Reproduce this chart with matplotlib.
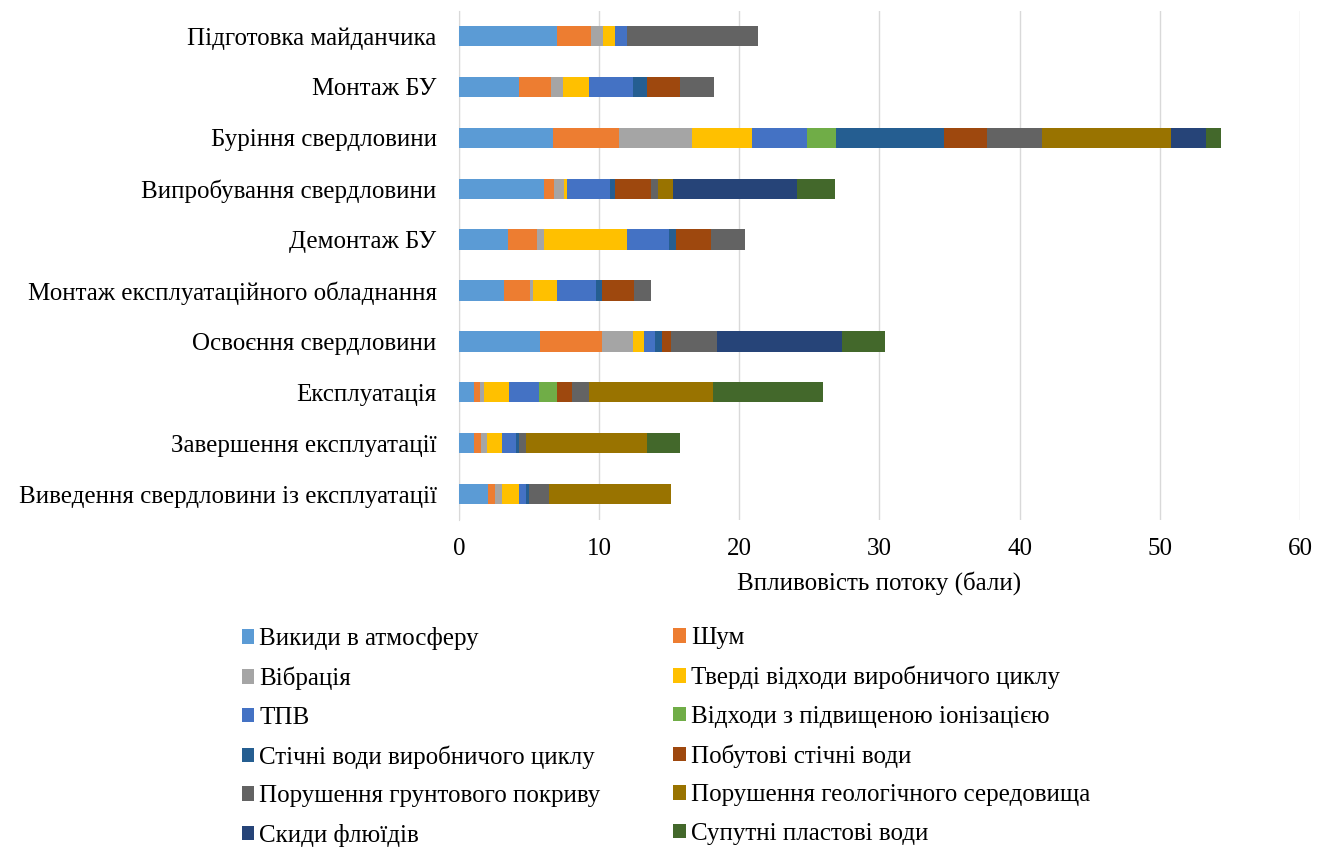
import matplotlib
matplotlib.use('Agg')
import matplotlib.pyplot as plt
import numpy as np

plt.rcParams['font.family'] = ['Liberation Serif', 'DejaVu Serif']

# Етапи (зверху вниз)
etapy = ['Підготовка майданчика', 'Монтаж БУ', 'Буріння свердловини',
         'Випробування свердловини', 'Демонтаж БУ',
         'Монтаж експлуатаційного обладнання', 'Освоєння свердловини',
         'Експлуатація', 'Завершення експлуатації',
         'Виведення свердловини із експлуатації']

potoky = ['Викиди в атмосферу', 'Шум', 'Вібрація',
          'Тверді відходи виробничого циклу', 'ТПВ',
          'Відходи з підвищеною іонізацією', 'Стічні води виробничого циклу',
          'Побутові стічні води', 'Порушення грунтового покриву',
          'Порушення геологічного середовища', 'Скиди флюїдів',
          'Супутні пластові води']

kolory = ['#5B9BD5', '#ED7D31', '#A5A5A5', '#FFC000', '#4472C4', '#70AD47',
          '#255E91', '#9E480E', '#636363', '#997300', '#264478', '#43682B']

# значення по етапах, порядок як у potoky
pidgotovka = [7.0, 2.4, 0.9, 0.8, 0.9, 0, 0, 0, 9.3, 0, 0, 0]
montazh_bu = [4.3, 2.3, 0.8, 1.9, 3.1, 0, 1.0, 2.4, 2.4, 0, 0, 0]
burinnia = [6.7, 4.7, 5.2, 4.3, 3.9, 2.1, 7.7, 3.1, 3.9, 9.2, 2.5, 1.1]
vyprobuvannia = [6.1, 0.7, 0.7, 0.2, 3.1, 0, 0.3, 2.6, 0.5, 1.1, 8.8, 2.7]
demontazh = [3.5, 2.1, 0.5, 5.9, 3.0, 0, 0.5, 2.5, 2.4, 0, 0, 0]
montazh_obl = [3.2, 1.9, 0.2, 1.7, 2.8, 0, 0.4, 2.3, 1.2, 0, 0, 0]
osvoiennia = [5.8, 4.4, 2.2, 0.8, 0.8, 0, 0.5, 0.6, 3.3, 0, 8.9, 3.1]
ekspluatatsiia = [1.1, 0.4, 0.3, 1.8, 2.1, 1.3, 0, 1.1, 1.2, 8.8, 0, 7.9]
zavershennia = [1.1, 0.5, 0.4, 1.1, 1.0, 0, 0.2, 0, 0.5, 8.6, 0, 2.4]
vyvedennia = [2.1, 0.5, 0.5, 1.2, 0.5, 0, 0.2, 0, 1.4, 8.7, 0, 0]

dani = np.array([pidgotovka, montazh_bu, burinnia, vyprobuvannia, demontazh,
                 montazh_obl, osvoiennia, ekspluatatsiia, zavershennia,
                 vyvedennia])

fig = plt.figure(figsize=(13.28, 8.5), dpi=100)
ax = fig.add_axes([0.3456, 0.3888, 0.6333, 0.5988])

y = np.arange(len(etapy))
livo = np.zeros(len(etapy))
handles = []
for i, nazva in enumerate(potoky):
    b = ax.barh(y, dani[:, i], left=livo, height=0.4, color=kolory[i],
                label=nazva, zorder=3)
    handles.append(b)
    livo += dani[:, i]

ax.set_ylim(len(etapy) - 0.5, -0.5)
ax.set_xlim(0, 60)
ax.set_xticks(range(0, 61, 10))
ax.set_yticks(y)
ax.set_yticklabels(etapy, fontsize=18)
ax.tick_params(axis='x', labelsize=18, length=0, pad=13)
ax.tick_params(axis='y', length=0, pad=16)
ax.grid(axis='x', color='#D9D9D9', linewidth=1, zorder=0)
for s in ['top', 'right', 'bottom']:
    ax.spines[s].set_visible(False)
ax.spines['left'].set_color('#D9D9D9')
ax.set_xlabel('Впливовість потоку (бали)', fontsize=18, labelpad=8)

# легенда у два стовпці
kw = dict(loc='upper left', frameon=False, fontsize=18, handlelength=0.5,
          handleheight=0.5, handletextpad=0.2, labelspacing=0.66,
          borderpad=0, borderaxespad=0)
fig.legend(handles[0::2], potoky[0::2], bbox_to_anchor=(0.182, 0.262), **kw)
fig.legend(handles[1::2], potoky[1::2], bbox_to_anchor=(0.507, 0.262), **kw)

fig.savefig('out.png', dpi=100)
